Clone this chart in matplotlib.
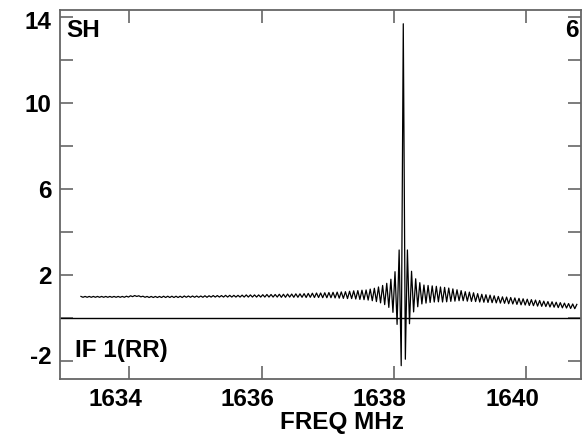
import numpy as np
import matplotlib
matplotlib.use('Agg')
import matplotlib.pyplot as plt
import matplotlib.transforms as mtransforms

# spectrum channels (flux), 241 channels
flux_left = [
    1.02, 0.98, 1.02, 0.98, 1.02, 0.98, 1.02, 0.98, 1.02, 0.98,
    1.02, 0.98, 1.02, 0.98, 1.02, 0.98, 1.02, 0.98, 1.02, 0.98,
    1.02, 0.98, 1.03, 0.99, 1.05, 1.01, 1.06, 1.02, 1.05, 1.00,
    1.03, 0.98, 1.02, 0.97, 1.02, 0.97, 1.02, 0.97, 1.02, 0.97,
    1.03, 0.97, 1.03, 0.97, 1.03, 0.97, 1.03, 0.97, 1.03, 0.97,
    1.04, 0.98, 1.04, 0.98, 1.04, 0.98, 1.04, 0.98, 1.04, 0.98,
    1.05, 0.98, 1.05, 0.99, 1.06, 0.99, 1.06, 0.99, 1.06, 0.99,
    1.07, 0.99, 1.07, 0.99, 1.07, 0.99, 1.07, 0.99, 1.08, 0.99,
    1.09, 0.99, 1.09, 0.99, 1.09, 0.99, 1.09, 0.99, 1.10, 0.99,
    1.11, 0.99, 1.11, 0.99, 1.11, 0.99, 1.12, 0.98, 1.12, 0.98,
    1.13, 0.99, 1.13, 0.98, 1.14, 0.98, 1.14, 0.98, 1.15, 0.97,
    1.16, 0.98, 1.17, 0.97, 1.18, 0.97, 1.18, 0.96, 1.19, 0.96,
    1.20, 0.96, 1.21, 0.95, 1.22, 0.94, 1.23, 0.93, 1.24, 0.92,
    1.26, 0.92, 1.28, 0.90, 1.29, 0.88, 1.31, 0.87, 1.32, 0.85,
    1.36, 0.82, 1.40, 0.78, 1.46, 0.72, 1.53, 0.64, 1.63, 0.51,
    1.82, 0.28, 2.17, -0.28, 3.18, -2.20,
]
flux_peak = [13.70]
flux_right = [
    -1.90, 3.18, -0.25, 2.19, 0.30, 1.84, 0.54, 1.66, 0.67, 1.55,
    0.71, 1.53, 0.74, 1.51, 0.76, 1.49, 0.77, 1.46, 0.76, 1.44,
    0.77, 1.41, 0.79, 1.37, 0.80, 1.33, 0.82, 1.29, 0.82, 1.24,
    0.80, 1.22, 0.79, 1.19, 0.78, 1.15, 0.76, 1.12, 0.75, 1.10,
    0.74, 1.08, 0.73, 1.05, 0.72, 1.02, 0.71, 1.00, 0.70, 0.99,
    0.68, 0.97, 0.67, 0.95, 0.65, 0.93, 0.63, 0.91, 0.62, 0.89,
    0.60, 0.87, 0.59, 0.85, 0.57, 0.83, 0.56, 0.80, 0.55, 0.78,
    0.53, 0.77, 0.52, 0.75, 0.50, 0.73, 0.49, 0.71, 0.48, 0.69,
    0.46, 0.67, 0.45, 0.65,
]
flux = np.array(flux_left + flux_peak + flux_right)

# channel grid
f_start = 1633.267   # MHz, first channel
chan_width = 0.03125  # MHz
freq = f_start + chan_width * np.arange(len(flux))

x_ticks = [1634, 1636, 1638, 1640]
y_ticks = [-2, 2, 6, 10, 14]
y_minor = [0, 4, 8, 12]

plt.rcParams['font.family'] = ['Liberation Sans', 'DejaVu Sans']
plt.rcParams['font.weight'] = 'bold'
fs = 17.5

fig = plt.figure(figsize=(5.82, 4.34), dpi=100)
ax = fig.add_axes([60 / 582, 1 - 379 / 434, 521 / 582, 369 / 434])

ax.plot(freq, flux, color='black', linewidth=0.9)
ax.axhline(0, color='black', linewidth=1.0)

ax.set_xlim(1632.95, 1640.83)
ax.set_ylim(-2.82, 14.34)
ax.set_xticks(x_ticks)
ax.set_yticks(y_ticks)
ax.set_yticks(y_minor, minor=True)
ax.set_xticklabels([str(v) for v in x_ticks], fontsize=fs, fontweight='bold')
ax.set_yticklabels([str(v) for v in y_ticks], fontsize=fs, fontweight='bold')

grey = '#666666'
for s in ax.spines.values():
    s.set_color(grey)
    s.set_linewidth(1.3)
ax.tick_params(which='both', direction='in', length=9.5, width=1.2, color=grey,
               top=True, right=True)
ax.tick_params(axis='y', which='major', pad=6)
ax.tick_params(axis='x', which='major', pad=6.5)

# x tick labels sit a little left of their ticks in the original
shift = mtransforms.ScaledTranslation(-0.14, 0, fig.dpi_scale_trans)
for lab in ax.get_xticklabels():
    lab.set_transform(lab.get_transform() + shift)
ylabs = ax.get_yticklabels()
ylabs[0].set_transform(ylabs[0].get_transform() + mtransforms.ScaledTranslation(0, 0.06, fig.dpi_scale_trans))
ylabs[-1].set_transform(ylabs[-1].get_transform() + mtransforms.ScaledTranslation(0, -0.03, fig.dpi_scale_trans))

ax.text(0.012, 0.975, 'SH', transform=ax.transAxes, fontsize=fs, fontweight='bold',
        ha='left', va='top')
ax.text(0.995, 0.975, '6', transform=ax.transAxes, fontsize=fs, fontweight='bold',
        ha='right', va='top')
ax.text(0.029, 0.06, 'IF 1(RR)', transform=ax.transAxes, fontsize=fs, fontweight='bold',
        ha='left', va='baseline')
fig.text(341.7 / 582, 1 - 429 / 434, 'FREQ MHz', fontsize=fs, fontweight='bold',
         ha='center', va='baseline')

fig.savefig('out.png', dpi=100)
